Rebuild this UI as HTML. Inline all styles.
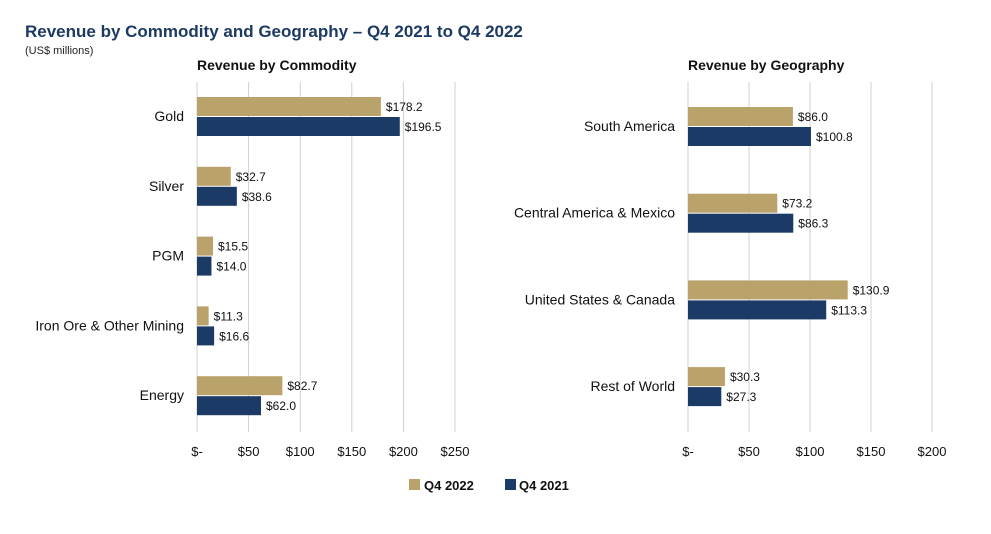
<!DOCTYPE html>
<html><head><meta charset="utf-8"><style>
body{margin:0;background:#fff;width:991px;height:529px;overflow:hidden;font-family:"Liberation Sans",sans-serif}
svg text{font-family:"Liberation Sans",sans-serif}
</style></head><body>
<svg width="991" height="529">
<text x="25" y="37" font-size="17" font-weight="bold" fill="#1d3a63">Revenue by Commodity and Geography – Q4 2021 to Q4 2022</text>
<text x="25" y="54" font-size="11" fill="#222">(US$ millions)</text>
<text x="197" y="70" font-size="14" font-weight="bold" fill="#111">Revenue by Commodity</text>
<text x="688" y="70" font-size="14" font-weight="bold" fill="#111">Revenue by Geography</text>
<g id="left"></g><g id="right"></g>
<rect x="409" y="479" width="11" height="11" fill="#b9a36a"/>
<text x="424" y="490" font-size="13" font-weight="bold" fill="#111">Q4 2022</text>
<rect x="505" y="479" width="11" height="11" fill="#1b3a66"/>
<text x="519" y="490" font-size="13" font-weight="bold" fill="#111">Q4 2021</text>
</svg>
<script>
const commodityCats=["Gold","Silver","PGM","Iron Ore & Other Mining","Energy"];
const commodity2022=[178.2,32.7,15.5,11.3,82.7];
const commodity2021=[196.5,38.6,14.0,16.6,62.0];
const commodityTicks=[0,50,100,150,200,250];
const geoCats=["South America","Central America & Mexico","United States & Canada","Rest of World"];
const geo2022=[86.0,73.2,130.9,30.3];
const geo2021=[100.8,86.3,113.3,27.3];
const geoTicks=[0,50,100,150,200];
const NS="http://www.w3.org/2000/svg";
function mk(p,t,a){const e=document.createElementNS(NS,t);for(const k in a)e.setAttribute(k,a[k]);p.appendChild(e);return e;}
function draw(g,cats,s1,s2,ticks,x0,pxPer,firstC,step,nm){
  const x=v=>x0+v*pxPer;
  ticks.forEach(t=>{
    const l=mk(g,"line",{x1:x(t),x2:x(t),y1:82,y2:432,stroke:"#d0d0d0","stroke-width":1});
    
    
    const tx=mk(g,"text",{x:x(t),y:456,"font-size":13,"text-anchor":"middle",fill:"#111"});
    tx.textContent=t===0?"$-":"$"+t;
    
    
  });
  cats.forEach((c,i)=>{
    const cy=firstC+i*step;
    const lb=mk(g,"text",{x:x0-13,y:cy+5,"font-size":14,"text-anchor":"end",fill:"#111"});
    lb.textContent=c;
    
    
    [[s1[i],"#b9a36a",cy-19],[s2[i],"#1b3a66",cy+1]].forEach(([v,col,y],j)=>{
      const r=mk(g,"rect",{x:x0,y:y,width:x(v)-x0,height:19,fill:col});
      
      
      const vt=mk(g,"text",{x:x(v)+5,y:y+14,"font-size":12,fill:"#111"});
      vt.textContent="$"+v.toFixed(1);
      
      
    });
  });
}
draw(document.getElementById("left"),commodityCats,commodity2022,commodity2021,commodityTicks,197,1.032,116,69.8,"commodity");
draw(document.getElementById("right"),geoCats,geo2022,geo2021,geoTicks,688,1.22,126,86.7,"geography");
</script>
</body></html>
